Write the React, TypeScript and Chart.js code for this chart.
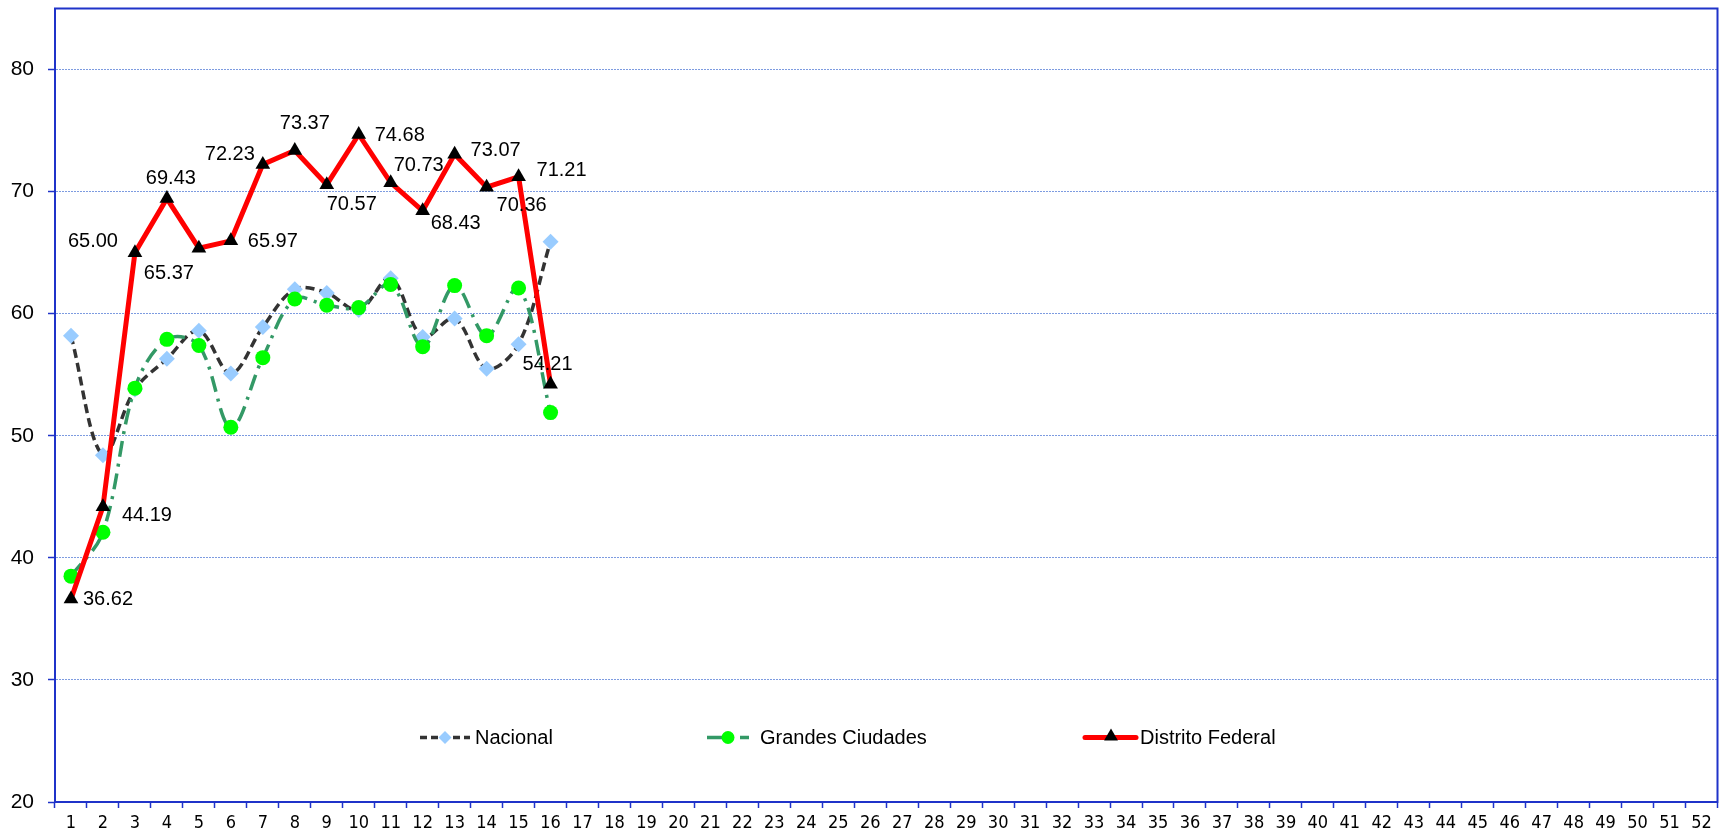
import React, { useEffect, useRef } from 'react';
import { Chart, registerables } from 'chart.js';

Chart.register(...registerables);

// ---- Data ----
const weeks: string[] = [
  '1', '2', '3', '4', '5', '6', '7', '8', '9', '10', '11', '12', '13',
  '14', '15', '16', '17', '18', '19', '20', '21', '22', '23', '24', '25', '26',
  '27', '28', '29', '30', '31', '32', '33', '34', '35', '36', '37', '38', '39',
  '40', '41', '42', '43', '44', '45', '46', '47', '48', '49', '50', '51', '52',
];

const nacional: number[] = [58.2, 48.4, 53.8, 56.3, 58.6, 55.1, 58.9, 62.0, 61.7, 60.3, 62.9, 58.1, 59.6, 55.5, 57.5, 65.9];
const grandesCiudades: number[] = [38.5, 42.1, 53.9, 57.9, 57.4, 50.7, 56.4, 61.2, 60.7, 60.5, 62.4, 57.3, 62.3, 58.2, 62.1, 51.9];
const distritoFederal: number[] = [36.62, 44.19, 65.0, 69.43, 65.37, 65.97, 72.23, 73.37, 70.57, 74.68, 70.73, 68.43, 73.07, 70.36, 71.21, 54.21];

const seriesNames: string[] = ['Nacional', 'Grandes Ciudades', 'Distrito Federal'];
const yTicks: number[] = [20, 30, 40, 50, 60, 70, 80];

// ---- Styling ----
const AXIS = '#1f33c9';
const GRID = '#7d9be0';
const C_NAC_LINE = '#333333';
const C_NAC_PT = '#99CCFF';
const C_GC_LINE = '#339966';
const C_GC_PT = '#00FF00';
const C_DF = '#FF0000';
const SANS = "'Liberation Sans', Arial, sans-serif";
const TICKFONT = "'DejaVu Sans Condensed', 'DejaVu Sans', sans-serif";

// label offsets (px) for Distrito Federal value labels
const dfLabelOffsets: [number, number][] = [
  [37, 0], [44, 9], [-42, -11], [4, -20], [-30, 25], [42, 1], [-33, -10], [10, -27],
  [25, 20], [41, 1], [28, -17], [33, 13], [41, -4], [35, 18], [43, -6], [-3, -20],
];

const dashNac = [9, 5];
const dashGC = [16, 7, 3, 7];

const framePlugin = {
  id: 'frame',
  beforeDatasetsDraw(chart: any) {
    const { ctx, chartArea } = chart;
    const { left, top, right, bottom } = chartArea;
    ctx.save();
    ctx.strokeStyle = AXIS;
    ctx.lineWidth = 2;
    ctx.strokeRect(left, top, right - left, bottom - top);
    ctx.restore();
  },
};

const labelPlugin = {
  id: 'dfLabels',
  afterDatasetsDraw(chart: any) {
    const { ctx } = chart;
    const meta = chart.getDatasetMeta(2);
    ctx.save();
    ctx.fillStyle = '#000';
    ctx.font = `20px ${SANS}`;
    ctx.textAlign = 'center';
    ctx.textBaseline = 'middle';
    meta.data.forEach((pt: any, i: number) => {
      const v = distritoFederal[i];
      if (v === undefined || pt.skip) return;
      const [dx, dy] = dfLabelOffsets[i] || [0, -20];
      ctx.fillText(v.toFixed(2), pt.x + dx, pt.y + dy);
    });
    ctx.restore();
  },
};

function drawDiamond(ctx: CanvasRenderingContext2D, x: number, y: number, r: number, color: string) {
  ctx.beginPath();
  ctx.moveTo(x - r, y);
  ctx.lineTo(x, y - r);
  ctx.lineTo(x + r, y);
  ctx.lineTo(x, y + r);
  ctx.closePath();
  ctx.fillStyle = color;
  ctx.fill();
}
function drawCircle(ctx: CanvasRenderingContext2D, x: number, y: number, r: number, color: string) {
  ctx.beginPath();
  ctx.arc(x, y, r, 0, Math.PI * 2);
  ctx.fillStyle = color;
  ctx.fill();
}
function drawTriangle(ctx: CanvasRenderingContext2D, x: number, y: number, r: number, color: string) {
  ctx.beginPath();
  ctx.moveTo(x, y - r);
  ctx.lineTo(x + r * 0.866, y + r * 0.5);
  ctx.lineTo(x - r * 0.866, y + r * 0.5);
  ctx.closePath();
  ctx.fillStyle = color;
  ctx.fill();
}

// legend layout relative to chart area left/top
const legendLayout = [
  { x0: 365, x1: 415, mx: 390, tx: 420 },
  { x0: 652, x1: 694, mx: 673, tx: 705 },
  { x0: 1030, x1: 1081, mx: 1056, tx: 1085 },
];
const legendY = 729;

const legendPlugin = {
  id: 'customLegend',
  afterDraw(chart: any) {
    const { ctx, chartArea } = chart;
    const L = chartArea.left;
    const y = chartArea.top + legendY;
    ctx.save();
    ctx.lineCap = 'butt';
    // Nacional
    let it = legendLayout[0];
    ctx.strokeStyle = C_NAC_LINE;
    ctx.lineWidth = 3.5;
    ctx.setLineDash([7, 4]);
    ctx.beginPath();
    ctx.moveTo(L + it.x0, y);
    ctx.lineTo(L + it.x1, y);
    ctx.stroke();
    ctx.setLineDash([]);
    drawDiamond(ctx, L + it.mx, y, 6.5, C_NAC_PT);
    // Grandes Ciudades
    it = legendLayout[1];
    ctx.strokeStyle = C_GC_LINE;
    ctx.lineWidth = 3.5;
    ctx.setLineDash([18, 6, 3, 6]);
    ctx.beginPath();
    ctx.moveTo(L + it.x0, y);
    ctx.lineTo(L + it.x1, y);
    ctx.stroke();
    ctx.setLineDash([]);
    drawCircle(ctx, L + it.mx, y, 6.5, C_GC_PT);
    // Distrito Federal
    it = legendLayout[2];
    ctx.strokeStyle = C_DF;
    ctx.lineWidth = 5;
    ctx.lineCap = 'round';
    ctx.beginPath();
    ctx.moveTo(L + it.x0, y);
    ctx.lineTo(L + it.x1, y);
    ctx.stroke();
    drawTriangle(ctx, L + it.mx, y - 1, 8, '#000');
    // texts
    ctx.fillStyle = '#000';
    ctx.font = `20px ${SANS}`;
    ctx.textAlign = 'left';
    ctx.textBaseline = 'middle';
    legendLayout.forEach((l, i) => ctx.fillText(seriesNames[i], L + l.tx, y + 1));
    ctx.restore();
  },
};

export default function App() {
  const canvasRef = useRef<HTMLCanvasElement | null>(null);

  useEffect(() => {
    if (!canvasRef.current) return;
    const chart = new Chart(canvasRef.current, {
      type: 'line',
      data: {
        labels: weeks,
        datasets: [
          {
            label: seriesNames[0],
            data: nacional,
            borderColor: C_NAC_LINE,
            borderWidth: 3.5,
            borderDash: dashNac,
            tension: 0.35,
            pointStyle: 'rectRot',
            pointRadius: 8,
            pointBackgroundColor: C_NAC_PT,
            pointBorderWidth: 0,
            pointBorderColor: C_NAC_PT,
            order: 3,
          },
          {
            label: seriesNames[1],
            data: grandesCiudades,
            borderColor: C_GC_LINE,
            borderWidth: 3.5,
            borderDash: dashGC,
            tension: 0.35,
            pointStyle: 'circle',
            pointRadius: 7.5,
            pointBackgroundColor: C_GC_PT,
            pointBorderWidth: 0,
            pointBorderColor: C_GC_PT,
            order: 2,
          },
          {
            label: seriesNames[2],
            data: distritoFederal,
            borderColor: C_DF,
            borderWidth: 5,
            tension: 0,
            pointStyle: 'triangle',
            pointRadius: 8.5,
            pointBackgroundColor: '#000',
            pointBorderWidth: 0,
            pointBorderColor: '#000',
            order: 1,
          },
        ],
      },
      options: {
        animation: false,
        responsive: false,
        maintainAspectRatio: false,
        layout: { padding: { top: 6, right: 1, left: 0, bottom: 0 } },
        plugins: {
          legend: { display: false },
          tooltip: { enabled: false },
        },
        scales: {
          x: {
            type: 'category',
            offset: true,
            afterFit: (s: any) => {
              s.height = 32;
              s.paddingLeft = 0;
              s.paddingRight = 0;
              s.paddingTop = 0;
              s.paddingBottom = 0;
            },
            grid: {
              offset: true,
              drawOnChartArea: false,
              drawTicks: true,
              tickLength: 6,
              tickColor: AXIS,
              tickWidth: 1.5,
            },
            border: { color: AXIS, width: 2 },
            ticks: {
              autoSkip: false,
              maxRotation: 0,
              color: '#000',
              padding: 5,
              font: { family: TICKFONT, size: 18 },
            },
          },
          y: {
            min: yTicks[0],
            max: 85,
            afterFit: (s: any) => {
              s.width = 55;
              s.paddingTop = 0;
              s.paddingBottom = 0;
              s.paddingLeft = 0;
              s.paddingRight = 0;
            },
            afterBuildTicks: (s: any) => {
              s.ticks = yTicks.map((v) => ({ value: v }));
            },
            grid: {
              color: GRID,
              lineWidth: 1,
              drawTicks: true,
              tickLength: 7,
              tickColor: AXIS,
              tickWidth: 1.5,
              tickBorderDash: [],
            },
            border: { color: AXIS, width: 2, dash: [2, 1] },
            ticks: {
              color: '#000',
              padding: 14,
              font: { family: SANS, size: 21 },
            },
          },
        },
      },
      plugins: [framePlugin, labelPlugin, legendPlugin],
    } as any);
    return () => chart.destroy();
  }, []);

  return (
    <div style={{ position: 'fixed', left: 0, top: 0, width: 1726, height: 834, background: '#fff' }}>
      <canvas ref={canvasRef} width={1726} height={834} style={{ width: 1726, height: 834 }} />
    </div>
  );
}
